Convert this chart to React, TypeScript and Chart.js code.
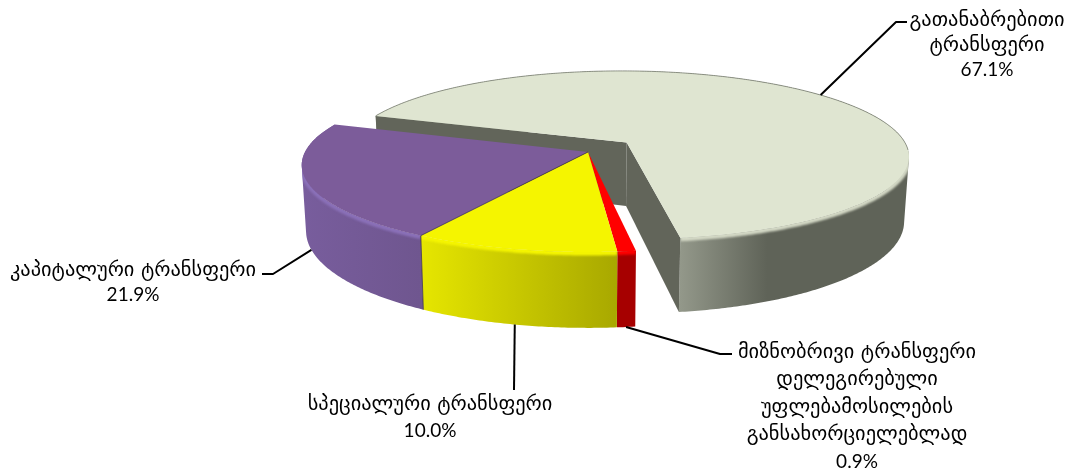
import React, { useEffect, useRef } from "react";
import { Chart, registerables, ArcElement, PieController } from "chart.js";

Chart.register(...registerables);

// ---- data ----
const categories: string[][] = [
  ["გათანაბრებითი", "ტრანსფერი"],
  ["მიზნობრივი ტრანსფერი", "დელეგირებული", "უფლებამოსილების", "განსახორციელებლად"],
  ["სპეციალური ტრანსფერი"],
  ["კაპიტალური ტრანსფერი"],
];
const shares: number[] = [67.1, 0.9, 10.0, 21.9];
const explode: number[] = [25, 0, 0, 0];
const topColors: string[] = ["#dfe5d1", "#ff0000", "#f5f500", "#7c5c9a"];
const sideStart: string[] = ["#5f6358", "#a60000", "#e6e600", "#785d9d"];
const sideEnd: string[] = ["#93988a", "#a60000", "#a8a800", "#6f568f"];
const rimColors: string[] = ["#d3d8c5", "#ff0000", "#f5f500", "#8a70b8"];
const wallColor = "#62655a";

// label layout: centre x, first baseline, elbow end, elbow bend, whether the leader leaves the lower rim
const labelCenterX = [987, 857, 430, 133];
const labelFirstY = [26, 358, 410, 276];
const labelStep = [25, 27.4, 27, 25];
const elbowEnd = [[907, 22], [732, 354], [514, 390], [262, 274]];
const elbowBend = [[896, 22], [720, 354], [514, 390], [273, 274]];
const leaderFromBottom = [false, true, true, true];

// ---- projection of the flat pie on a tilted disc ----
const K = 0.15;
const SX = 283 / 139.5;
const SY = 85 / 139.5;
const DEPTH = 64.5 / 139.5;
const SHRINK = 0.985;

type P = { x: number; y: number; bx: number; by: number; v: number };

class Arc3D extends ArcElement {
  static id = "arc3d";

  project(u: number, v: number): P {
    const a = this as any;
    const R = a.outerRadius;
    const w = 1 - K * v;
    const x = a.x + (SX * R * u) / w;
    const y = a.y + (SY * R * v) / w;
    return { x, y, bx: a.x + (x - a.x) * SHRINK, by: y + (DEPTH * R) / w, v };
  }
  shift(): [number, number] {
    const a = this as any;
    const d = (a.options.offset || 0) / a.outerRadius;
    const mid = (a.startAngle + a.endAngle) / 2;
    return [d * Math.cos(mid), d * Math.sin(mid)];
  }
  at(theta: number): P {
    const [ou, ov] = this.shift();
    return this.project(ou + Math.cos(theta), ov + Math.sin(theta));
  }
  apex(): P {
    const [ou, ov] = this.shift();
    return this.project(ou, ov);
  }
  rimPoints(): P[] {
    const a = this as any;
    const n = Math.max(2, Math.ceil((a.endAngle - a.startAngle) / 0.01));
    const out: P[] = [];
    for (let i = 0; i <= n; i++) out.push(this.at(a.startAngle + ((a.endAngle - a.startAngle) * i) / n));
    return out;
  }
  wallPath(ctx: CanvasRenderingContext2D, rim: P[]) {
    ctx.beginPath();
    for (let k = 0; k < rim.length - 1; k++) {
      const p = rim[k];
      const q = rim[k + 1];
      const pts: [number, number][] = [[p.x, p.y], [q.x, q.y], [q.bx, q.by], [p.bx, p.by]];
      let area = 0;
      for (let m = 0; m < 4; m++) {
        const [x0, y0] = pts[m];
        const [x1, y1] = pts[(m + 1) % 4];
        area += x0 * y1 - x1 * y0;
      }
      if (area < 0) pts.reverse();
      pts.forEach(([x, y], m) => (m ? ctx.lineTo(x, y) : ctx.moveTo(x, y)));
      ctx.closePath();
    }
  }
  draw(ctx: CanvasRenderingContext2D) {
    const a = this as any;
    const i = a.$context.index as number;
    const rim = this.rimPoints();
    const apex = this.apex();
    const exploded = a.options.offset > 0;
    ctx.save();

    // outer wall with its shading across the part that faces the viewer
    const front = rim.filter((p) => p.y > apex.y - 8);
    const xs = front.map((p) => p.x);
    const minX = Math.min(...xs);
    const maxX = Math.max(...xs);
    const g = ctx.createLinearGradient(minX, 0, maxX, 0);
    if (exploded) {
      g.addColorStop(0, sideEnd[i]);
      g.addColorStop(0.38, sideStart[i]);
      g.addColorStop(1, sideStart[i]);
    } else {
      g.addColorStop(0, sideStart[i]);
      g.addColorStop(1, sideEnd[i]);
    }
    ctx.fillStyle = g;
    this.wallPath(ctx, rim);
    ctx.fill();

    // soft bevel along the front rim, kept inside the wall
    ctx.save();
    this.wallPath(ctx, rim);
    ctx.clip();
    (ctx as any).filter = "blur(1.2px)";
    ctx.strokeStyle = rimColors[i];
    ctx.lineWidth = 5;
    ctx.beginPath();
    let started = false;
    rim.forEach((p) => {
      if (p.y > apex.y + 6) {
        if (started) ctx.lineTo(p.x, p.y + 1);
        else ctx.moveTo(p.x, p.y + 1);
        started = true;
      }
    });
    ctx.stroke();
    ctx.restore();

    // cut faces are only seen on the pulled-out slice
    if (exploded) {
      ctx.fillStyle = wallColor;
      for (const e of [rim[0], rim[rim.length - 1]]) {
        ctx.beginPath();
        ctx.moveTo(apex.x, apex.y);
        ctx.lineTo(e.x, e.y);
        ctx.lineTo(e.bx, e.by);
        ctx.lineTo(apex.bx, apex.by);
        ctx.closePath();
        ctx.fill();
      }
    }

    // top face
    ctx.fillStyle = topColors[i];
    ctx.beginPath();
    ctx.moveTo(apex.x, apex.y);
    rim.forEach((p) => ctx.lineTo(p.x, p.y));
    ctx.closePath();
    ctx.fill();

    // thin edge on the far rim of the pulled-out slice
    if (exploded) {
      ctx.strokeStyle = "rgba(120,125,112,0.8)";
      ctx.lineWidth = 1;
      ctx.beginPath();
      let s = false;
      rim.forEach((p) => {
        if (p.y < apex.y + 8) {
          if (s) ctx.lineTo(p.x, p.y);
          else ctx.moveTo(p.x, p.y);
          s = true;
        }
      });
      ctx.stroke();
    }

    // seam between two touching slices
    if (i === shares.length - 1) {
      const e = rim[0];
      ctx.strokeStyle = "rgba(60,50,60,0.75)";
      ctx.lineWidth = 1;
      ctx.beginPath();
      ctx.moveTo(apex.x, apex.y);
      ctx.lineTo(e.x, e.y);
      ctx.lineTo(e.bx, e.by);
      ctx.stroke();
    }
    ctx.restore();
  }
}

class Pie3D extends PieController {
  static id = "pie3d";
  static defaults = { dataElementType: "arc3d" };
}
Chart.register(Arc3D as any, Pie3D as any);

const calloutPlugin = {
  id: "callouts",
  afterDatasetsDraw(chart: any) {
    const ctx: CanvasRenderingContext2D = chart.ctx;
    const arcs = chart.getDatasetMeta(0).data as any[];
    ctx.save();
    arcs.forEach((arc, i) => {
      const p = arc.at((arc.startAngle + arc.endAngle) / 2);
      const sx = leaderFromBottom[i] ? p.bx : p.x;
      const sy = leaderFromBottom[i] ? p.by : p.y;
      ctx.strokeStyle = "#000";
      ctx.lineWidth = 2;
      ctx.lineJoin = "round";
      ctx.beginPath();
      ctx.moveTo(sx, sy);
      ctx.lineTo(elbowBend[i][0], elbowBend[i][1]);
      ctx.lineTo(elbowEnd[i][0], elbowEnd[i][1]);
      ctx.stroke();

      ctx.fillStyle = "#000";
      ctx.textAlign = "center";
      ctx.textBaseline = "alphabetic";
      const x = labelCenterX[i];
      ctx.font = '20.4px "DejaVu Sans", sans-serif';
      categories[i].forEach((t, k) => ctx.fillText(t, x, labelFirstY[i] + k * labelStep[i]));
      ctx.font = '19px Lato, sans-serif';
      ctx.fillText(shares[i].toFixed(1) + "%", x, labelFirstY[i] + categories[i].length * labelStep[i]);
    });
    ctx.restore();
  },
};

export default function App() {
  const ref = useRef<HTMLCanvasElement>(null);
  useEffect(() => {
    document.body.style.margin = "0";
    const chart = new Chart(ref.current!, {
      type: "pie3d" as any,
      data: {
        labels: categories.map((c) => c.join(" ")),
        datasets: [
          {
            data: shares,
            backgroundColor: topColors,
            offset: explode,
            hoverOffset: 0,
            borderWidth: 0,
          } as any,
        ],
      },
      options: {
        responsive: false,
        animation: false,
        events: [],
        rotation: 289.9,
        layout: { padding: { left: 106, right: 0, top: 0, bottom: 167 } },
        plugins: { legend: { display: false }, tooltip: { enabled: false } },
      } as any,
      plugins: [calloutPlugin],
    });
    return () => chart.destroy();
  }, []);
  return <canvas ref={ref} width={1070} height={471} style={{ display: "block" }} />;
}
